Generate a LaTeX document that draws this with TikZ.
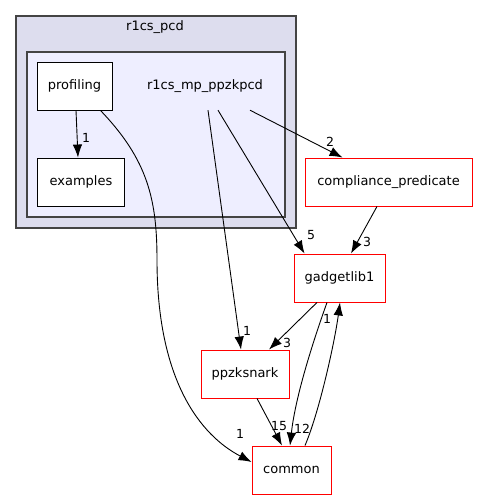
\documentclass[tikz,border=0pt]{standalone}
\usepackage{fontspec}
\setmainfont{DejaVu Sans}
\usetikzlibrary{arrows.meta}
\definecolor{clusterout}{HTML}{DDDDEE}
\definecolor{clusterin}{HTML}{EEEEFF}
\definecolor{clusterline}{HTML}{444444}
\begin{document}
\begin{tikzpicture}
        [x=1pt, y=-1pt, font=\fontsize{13}{15}\selectfont,
        dir/.style={draw=black, fill=white, line width=0.9pt, minimum height=48pt, inner sep=0pt},
        extdir/.style={draw=red, fill=white, line width=0.9pt, minimum height=48pt, inner sep=0pt},
        cluster/.style={draw=clusterline, line width=1.3pt},
        dep/.style={black, line width=0.9pt, -{Latex[length=13pt, width=9.5pt]}},
        lbl/.style={inner sep=0pt, font=\fontsize{12.5}{15}\selectfont}]

        \useasboundingbox (0,0) rectangle (477,500);

        % directory clusters
        \draw[cluster, fill=clusterout] (16,16) rectangle (296,228);
        \draw[cluster, fill=clusterin] (27,52) rectangle (285,217);
        \node (pcd) at (155,27) {r1cs\_pcd};
        \node[minimum width=150pt, minimum height=48pt] (mp) at (205,86) {r1cs\_mp\_ppzkpcd};

        % directories
        \node[dir, minimum width=75pt] (profiling) at (74.5,86) {profiling};
        \node[dir, minimum width=87pt] (examples) at (81,182) {examples};
        \node[extdir, minimum width=167pt] (compliance) at (388.5,182) {compliance\_predicate};
        \node[extdir, minimum width=91pt] (gadgetlib) at (339.5,278) {gadgetlib1};
        \node[extdir, minimum width=88pt] (ppzksnark) at (245,374) {ppzksnark};
        \node[extdir, minimum width=79pt] (common) at (291.5,470) {common};

        % dependencies
        \draw[dep] ([xshift=1.5]profiling.south) -- ([xshift=-3]examples.north);
        \draw[dep] ([xshift=-12]profiling.south east) .. controls (148,160) and (157,200) .. (157,260)
            .. controls (157,380) and (200,435) .. ([yshift=8]common.west);
        \draw[dep] ([xshift=3]mp.south) -- ([xshift=-4]ppzksnark.north);
        \draw[dep] ([xshift=13]mp.south) -- ([xshift=11]gadgetlib.north west);
        \draw[dep] ([xshift=45]mp.south) -- ([xshift=38]compliance.north west);
        \draw[dep] ([xshift=-11.5]compliance.south) -- ([xshift=11.5]gadgetlib.north);
        \draw[dep] ([xshift=-22.5]gadgetlib.south) -- ([xshift=24]ppzksnark.north);
        \draw[dep] ([xshift=-12.5]gadgetlib.south) .. controls (310,350) and (295,400) .. ([xshift=-1.5]common.north);
        \draw[dep] ([xshift=13.5]common.north) .. controls (320,410) and (335,340) .. ([xshift=0.5]gadgetlib.south);
        \draw[dep] ([xshift=12]ppzksnark.south) -- ([xshift=-9.5]common.north);

        % dependency counts
        \node[lbl] (n1) at (86,138) {1};
        \node[lbl] (n2) at (330,142) {2};
        \node[lbl] (n3) at (311,235) {5};
        \node[lbl] (n4) at (367,242) {3};
        \node[lbl] (n5) at (247,331) {1};
        \node[lbl] (n6) at (287,343) {3};
        \node[lbl] (n7) at (327,319) {1};
        \node[lbl] (n8) at (240,434) {1};
        \node[lbl] (n9) at (279,426) {15};
        \node[lbl] (n10) at (302,429) {12};

    \end{tikzpicture}
\end{document}
